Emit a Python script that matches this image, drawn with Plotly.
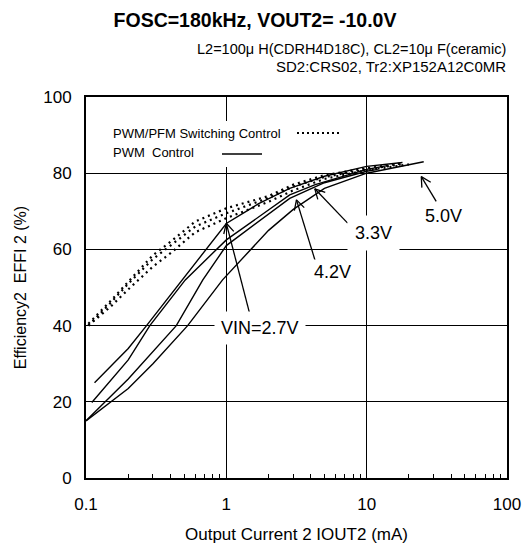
import numpy as np
import plotly.graph_objects as go

# ---------------- data ----------------
# PWM control (solid)
pwm_27_x = [0.115, 0.2, 0.27, 0.52, 1.0, 1.7, 2.83, 5.0, 10.0, 18.0]
pwm_27_y = [25.0, 34.0, 40.0, 53.5, 66.8, 72.0, 76.0, 79.2, 81.8, 82.8]
pwm_33_x = [0.11, 0.2, 0.285, 0.51, 1.0, 2.83, 4.3, 10.0, 14.0]
pwm_33_y = [19.8, 31.0, 40.0, 52.0, 62.5, 74.3, 77.0, 81.0, 82.0]
pwm_42_x = [0.1, 0.2, 0.44, 0.68, 1.0, 2.83, 5.0, 10.0, 12.0]
pwm_42_y = [15.0, 26.0, 40.0, 52.0, 61.0, 73.4, 77.5, 80.5, 81.0]
pwm_50_x = [0.1, 0.2, 0.3, 0.53, 0.94, 2.0, 3.0, 5.0, 10.0, 25.5]
pwm_50_y = [15.0, 23.5, 30.0, 40.0, 52.0, 65.0, 70.5, 76.0, 80.0, 83.0]

# PWM/PFM switching control (dotted)
pfm_u_x = [0.104, 0.15, 0.2, 0.3, 0.4, 0.6, 1.0, 2.0, 3.0, 5.0, 10.0, 18.0]
pfm_u_y = [40.5, 46.5, 51.5, 58.5, 62.0, 67.3, 70.8, 74.0, 77.0, 79.5, 81.3, 82.6]
pfm_m_x = [0.104, 0.15, 0.2, 0.3, 0.4, 0.6, 1.0, 2.0, 3.0, 5.0, 10.0, 18.0]
pfm_m_y = [40.0, 46.0, 51.0, 57.5, 61.0, 66.0, 69.5, 73.5, 76.5, 79.0, 81.0, 82.4]
pfm_l_x = [0.104, 0.15, 0.2, 0.3, 0.4, 0.6, 1.0, 2.0, 3.0, 5.0, 10.0, 20.0]
pfm_l_y = [40.0, 45.0, 49.5, 55.5, 59.0, 64.5, 68.2, 72.5, 75.5, 78.5, 80.8, 82.3]

# annotation labels: text, label position, arrow tip, arrow tail
labels = ["VIN=2.7V", "4.2V", "3.3V", "5.0V"]
label_x = [1.73, 5.68, 11.2, 35.3]
label_y = [39.4, 54.1, 64.3, 68.8]
label_pad = [6, 2, 7, 2]
tip_x = [1.0, 3.16, 4.27, 24.5]
tip_y = [66.85, 73.0, 75.9, 79.1]
tail_x = [1.47, 4.39, 7.32, 31.3]
tail_y = [43.0, 55.9, 66.9, 72.6]

x_tick_vals = [0.1, 1, 10, 100]
x_tick_text = ["0.1", "1", "10", "100"]
y_tick_vals = [0, 20, 40, 60, 80, 100]
y_tick_text = ["0", "20", "40", "60", "80", "100"]

title_text = "<b>FOSC=180kHz, VOUT2= -10.0V</b>"
sub1 = "L2=100\u03bc H(CDRH4D18C), CL2=10\u03bc F(ceramic)"
sub2 = "SD2:CRS02, Tr2:XP152A12C0MR"
x_title = "Output Current 2 IOUT2 (mA)"
y_title = "Efficiency2\u00a0 EFFI 2 (%)"
leg1 = "PWM/PFM Switching Control"
leg2 = "PWM\u00a0 Control"

# ---------------- layout geometry ----------------
W, H = 524, 549
ML, MR, MT, MB = 86, 17, 97, 71
PW, PH = W - ML - MR, H - MT - MB
XR = (-1.0, 2.0)
YR = (0.0, 100.0)
FONT = "Liberation Sans, Arial, sans-serif"


def to_px(x, y):
    px = ML + (np.log10(x) - XR[0]) / (XR[1] - XR[0]) * PW
    py = MT + (YR[1] - y) / (YR[1] - YR[0]) * PH
    return px, py


def to_data(px, py):
    x = 10 ** (XR[0] + (px - ML) / PW * (XR[1] - XR[0]))
    y = YR[1] - (py - MT) / PH * (YR[1] - YR[0])
    return x, y


def px_to_paper(px, py):
    return (px - ML) / PW, (MT + PH - py) / PH


fig = go.Figure()

# legend box (white, covers grid lines)
bx0, by0 = to_data(105, 167)
bx1, by1 = to_data(346, 121)
fig.add_trace(go.Scatter(x=[bx0, bx1, bx1, bx0, bx0], y=[by0, by0, by1, by1, by0],
                         mode="lines", fill="toself", fillcolor="white",
                         line=dict(width=0, color="white"),
                         showlegend=False, hoverinfo="skip"))
# legend samples
dx0, dy = to_data(297, 133)
dx1, _ = to_data(341, 133)
fig.add_trace(go.Scatter(x=[dx0, dx1], y=[dy, dy], mode="lines",
                         line=dict(color="black", width=2, dash="2px,3px"),
                         showlegend=False, hoverinfo="skip"))
sx0, sy = to_data(222, 154)
sx1, _ = to_data(262, 154)
fig.add_trace(go.Scatter(x=[sx0, sx1], y=[sy, sy], mode="lines",
                         line=dict(color="black", width=1.4),
                         showlegend=False, hoverinfo="skip"))

solid = dict(color="black", width=1.4)
for xs, ys in [(pwm_27_x, pwm_27_y), (pwm_33_x, pwm_33_y),
               (pwm_42_x, pwm_42_y), (pwm_50_x, pwm_50_y)]:
    fig.add_trace(go.Scatter(x=xs, y=ys, mode="lines", line=solid,
                             showlegend=False, hoverinfo="skip"))

dotted = dict(color="black", width=2.2, dash="2px,4px")
for xs, ys in [(pfm_u_x, pfm_u_y), (pfm_m_x, pfm_m_y), (pfm_l_x, pfm_l_y)]:
    fig.add_trace(go.Scatter(x=xs, y=ys, mode="lines", line=dotted,
                             showlegend=False, hoverinfo="skip"))

# arrows (line + open V head)
for tx, ty, ax_, ay_ in zip(tip_x, tip_y, tail_x, tail_y):
    fig.add_trace(go.Scatter(x=[ax_, tx], y=[ay_, ty], mode="lines",
                             line=dict(color="black", width=1.3),
                             showlegend=False, hoverinfo="skip"))
    p_tip = np.array(to_px(tx, ty))
    p_tail = np.array(to_px(ax_, ay_))
    d = p_tail - p_tip
    d = d / np.hypot(*d)
    wings = []
    for ang in (np.radians(28), -np.radians(28)):
        r = np.array([d[0] * np.cos(ang) - d[1] * np.sin(ang),
                      d[0] * np.sin(ang) + d[1] * np.cos(ang)])
        wings.append(p_tip + 11 * r)
    w1 = to_data(*wings[0])
    w2 = to_data(*wings[1])
    fig.add_trace(go.Scatter(x=[w1[0], tx, w2[0]], y=[w1[1], ty, w2[1]],
                             mode="lines", line=dict(color="black", width=1.3),
                             showlegend=False, hoverinfo="skip"))

annotations = []
for t, lx, ly, pad in zip(labels, label_x, label_y, label_pad):
    annotations.append(dict(x=np.log10(lx), y=ly, xref="x", yref="y", text=t,
                            showarrow=False, font=dict(size=18, color="black"),
                            bgcolor="white", borderpad=pad))

s1x, s1y = px_to_paper(508, 49)
s2x, s2y = px_to_paper(508, 67)
l1x, l1y = px_to_paper(111, 133)
l2x, l2y = px_to_paper(111, 152)
annotations += [
    dict(x=s1x, y=s1y, xref="paper", yref="paper", text=sub1, showarrow=False,
         xanchor="right", yanchor="middle", font=dict(size=14.5, color="black")),
    dict(x=s2x, y=s2y, xref="paper", yref="paper", text=sub2, showarrow=False,
         xanchor="right", yanchor="middle", font=dict(size=15, color="black")),
    dict(x=l1x, y=l1y, xref="paper", yref="paper",
         text=leg1, showarrow=False, xanchor="left", yanchor="middle",
         font=dict(size=13, color="black")),
    dict(x=l2x, y=l2y, xref="paper", yref="paper",
         text=leg2, showarrow=False, xanchor="left", yanchor="middle",
         font=dict(size=13, color="black")),
]

minor_vals = [k * 10.0 ** d for d in (-1, 0, 1) for k in range(2, 10)]

fig.update_layout(
    width=W, height=H,
    margin=dict(l=ML, r=MR, t=MT, b=MB, pad=0, autoexpand=False),
    paper_bgcolor="white", plot_bgcolor="white",
    font=dict(family=FONT, color="black"),
    title=dict(text=title_text, x=255 / W, xanchor="center",
               y=1 - 20 / H, yanchor="middle", font=dict(size=19.5)),
    annotations=annotations,
    showlegend=False,
    hovermode=False,
    xaxis=dict(type="log", range=list(XR), tickmode="array",
               tickvals=x_tick_vals, ticktext=x_tick_text,
               tickfont=dict(size=17), ticks="", ticklabelstandoff=10,
               showgrid=True, gridcolor="black", gridwidth=1.4,
               showline=True, linecolor="black", linewidth=2, mirror=True,
               zeroline=False, automargin=False,
               minor=dict(tickvals=minor_vals, ticks="inside",
                          ticklen=4, tickwidth=1, tickcolor="black", showgrid=False),
               title=dict(text=x_title, font=dict(size=17), standoff=15)),
    yaxis=dict(range=list(YR), tickmode="array", tickvals=y_tick_vals,
               ticktext=y_tick_text, tickfont=dict(size=17), ticks="",
               ticklabelstandoff=9, automargin=False,
               showgrid=True, gridcolor="black", gridwidth=1.4,
               showline=True, linecolor="black", linewidth=2, mirror=True,
               zeroline=False,
               title=dict(text=y_title, font=dict(size=16), standoff=13)),
)

fig.write_html("out.html",
               config={"displayModeBar": False, "staticPlot": True},
               post_script="document.body.style.margin='0px';"
                           "document.body.style.overflow='hidden';")
